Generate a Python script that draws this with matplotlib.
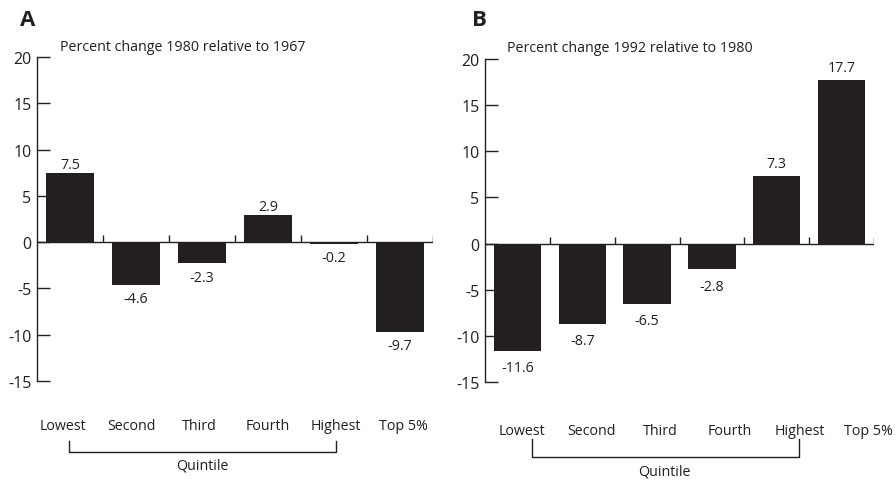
import numpy as np
import matplotlib.pyplot as plt

plt.rcParams['font.family'] = ['Open Sans', 'DejaVu Sans']
plt.rcParams['axes.unicode_minus'] = False

# data
categories = ["Lowest", "Second", "Third", "Fourth", "Highest", "Top 5%"]
change_1980_vs_1967 = [7.5, -4.6, -2.3, 2.9, -0.2, -9.7]
change_1992_vs_1980 = [-11.6, -8.7, -6.5, -2.8, 7.3, 17.7]
titles = ["Percent change 1980 relative to 1967", "Percent change 1992 relative to 1980"]
panel_letters = ["A", "B"]
yticks = [20, 15, 10, 5, 0, -5, -10, -15]

ink = "#231f20"
fs = 10.3

fig = plt.figure(figsize=(8.96, 4.81), dpi=100)
axA = fig.add_axes([0.0413, 0.2058, 0.442, 0.6736])
axB = fig.add_axes([0.5413, 0.2037, 0.4342, 0.6715])

# per-panel layout tweaks: label spacing/offset, label y, bracket, value label offsets
layouts = [
    dict(lab_step=1.03, lab_off=-0.1, lab_y=-19.8, br=(-0.02, 4.03), br_y=(-21.5, -22.7),
         q_x=2.0, q_y=-24.1, pos_off=6, neg_off=-10, title_xy=(0.058, 1.031), letter_x=0.022),
    dict(lab_step=1.07, lab_off=0.07, lab_y=-20.2, br=(0.22, 4.35), br_y=(-21.2, -23.15),
         q_x=2.27, q_y=-24.6, pos_off=9, neg_off=-12, title_xy=(0.057, 1.037), letter_x=0.527),
]

for ax, vals, title, letter, lay in zip([axA, axB], [change_1980_vs_1967, change_1992_vs_1980],
                                        titles, panel_letters, layouts):
    x = np.arange(len(categories))
    ax.bar(x, vals, width=0.73, color=ink, edgecolor="none")
    ax.set_xlim(-0.5, len(categories) - 0.5)
    ax.set_ylim(-15, 20)

    # spines
    for s in ["top", "right", "bottom"]:
        ax.spines[s].set_visible(False)
    ax.spines["left"].set_color(ink)
    ax.spines["left"].set_linewidth(1.0)
    ax.set_xticks([])
    ax.set_yticks(yticks)
    ax.set_yticklabels([str(t) for t in yticks])
    ax.tick_params(axis="y", direction="in", length=9, width=1.0, color=ink,
                   labelsize=11.5, labelcolor=ink, pad=4)

    # zero line with small boundary ticks
    ax.axhline(0, color=ink, lw=1.0, zorder=3)
    bounds = np.arange(len(categories)) + 0.5
    ax.vlines(bounds, 0, 0.75, color=ink, lw=1.0, zorder=3)

    # value labels
    for xi, v in zip(x, vals):
        off = lay["pos_off"] if v > 0 else lay["neg_off"]
        ax.annotate(f"{v}", (xi, v), xytext=(0, off), textcoords="offset points",
                    ha="center", va="center", fontsize=fs, color=ink)

    # category labels below the axis
    for i, c in enumerate(categories):
        ax.text(i * lay["lab_step"] + lay["lab_off"], lay["lab_y"], c, ha="center", va="center",
                fontsize=fs, color=ink, clip_on=False)

    # quintile bracket
    b0, b1 = lay["br"]
    ytop, ybot = lay["br_y"]
    ax.plot([b0, b0, b1, b1], [ytop, ybot, ybot, ytop], color=ink, lw=1.0, clip_on=False)
    ax.text(lay["q_x"], lay["q_y"], "Quintile", ha="center", va="center", fontsize=fs,
            color=ink, clip_on=False)

    ax.text(lay["title_xy"][0], lay["title_xy"][1], title, transform=ax.transAxes,
            ha="left", va="center", fontsize=fs, color=ink)
    fig.text(lay["letter_x"], 0.958, letter, ha="left", va="center", fontsize=16,
             fontweight="bold", color=ink)

fig.savefig("out.png", dpi=100)
